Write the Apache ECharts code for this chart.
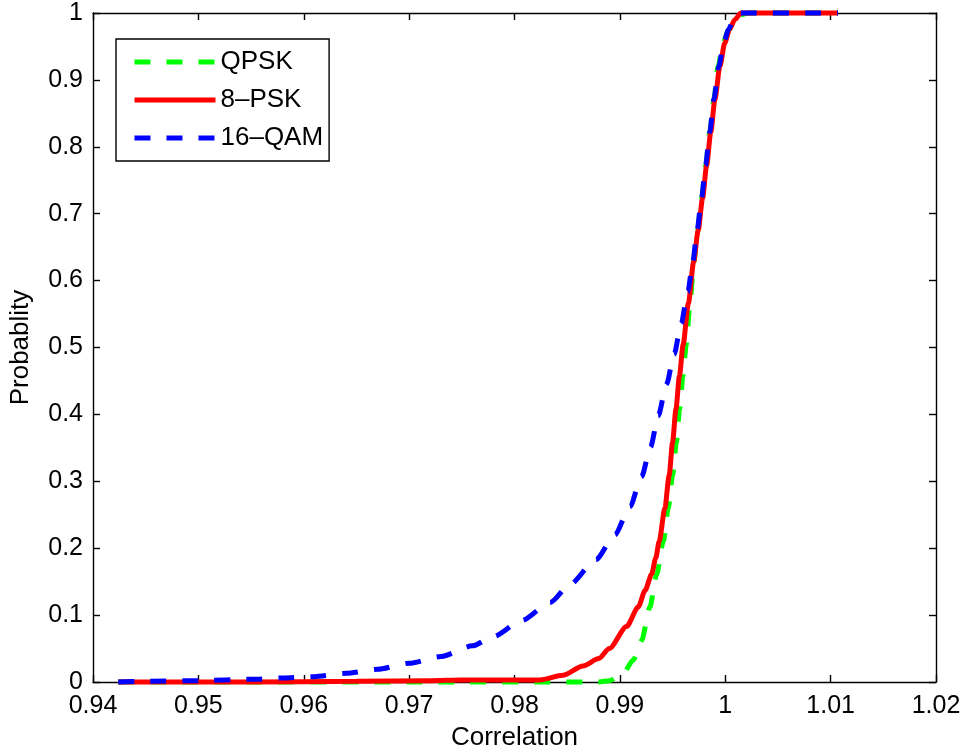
<!DOCTYPE html>
<html>
<head>
<meta charset="utf-8">
<title>Correlation CDF</title>
<script src="https://cdn.jsdelivr.net/npm/echarts@6/dist/echarts.min.js"></script>
<style>
  html, body { margin: 0; padding: 0; background: #fff; overflow: hidden; }
  #chart { width: 965px; height: 756px; }
</style>
</head>
<body>
<div id="chart"></div>
<script>
// Axis ticks
const xTicks = { min: 0.94, max: 1.02, step: 0.01 };
const yTicks = { min: 0, max: 1, step: 0.1 };

// Series names
const seriesNames = ['QPSK', '8\u2013PSK', '16\u2013QAM'];

// QPSK empirical CDF
const qpskX = [0.9424, 0.975, 0.9880, 0.9890, 0.99032, 0.99127, 0.99206, 0.99285, 0.99349, 0.99412,
  0.99459, 0.99500, 0.99536, 0.99567, 0.99598, 0.9963, 0.99665, 0.99702, 0.99738, 0.99776,
  0.99815, 0.99853, 0.99892, 0.99932, 0.99978, 1.00035, 1.0010, 1.0015, 1.0022, 1.0107];
const qpskY = [0, 0, 0, 0.002, 0.013, 0.033, 0.062, 0.112, 0.161, 0.210,
  0.260, 0.309, 0.358, 0.408, 0.457, 0.504, 0.566, 0.628, 0.675, 0.723,
  0.772, 0.822, 0.871, 0.920, 0.955, 0.975, 0.990, 0.997, 1.0, 1.0];

// 8-PSK empirical CDF
const pskX = [0.9424, 0.955, 0.965, 0.972, 0.975, 0.980, 0.9824, 0.9846, 0.9865, 0.9880, 0.9890,
  0.99064, 0.99174, 0.9924, 0.99301, 0.9934, 0.99373, 0.99427, 0.99468, 0.99500, 0.99532,
  0.99565, 0.9960, 0.9965, 0.9970, 0.99743, 0.99785, 0.99823, 0.99863, 0.99902, 0.99949,
  0.99995, 1.0004, 1.0009, 1.0015, 1.0107];
const pskY = [0, 0, 0.001, 0.002, 0.003, 0.003, 0.003, 0.010, 0.024, 0.035, 0.050,
  0.083, 0.112, 0.137, 0.161, 0.185, 0.210, 0.260, 0.309, 0.358, 0.408,
  0.457, 0.504, 0.566, 0.628, 0.675, 0.723, 0.772, 0.822, 0.871, 0.920,
  0.955, 0.975, 0.990, 1.0, 1.0];

// 16-QAM empirical CDF
const qamX = [0.9424, 0.945, 0.950, 0.955, 0.958, 0.961, 0.964, 0.967, 0.970, 0.973,
  0.976, 0.978, 0.9807, 0.9834, 0.98526, 0.98772, 0.98953, 0.99095, 0.99206, 0.99291,
  0.99364, 0.99443, 0.99515, 0.99582, 0.99645, 0.99692, 0.99733, 0.99775, 0.99813,
  0.99853, 0.99892, 0.99938, 0.99985, 1.0003, 1.0008, 1.0014, 1.0107];
const qamY = [0, 0.001, 0.002, 0.004, 0.006, 0.008, 0.013, 0.019, 0.028, 0.038,
  0.054, 0.068, 0.092, 0.119, 0.146, 0.183, 0.220, 0.262, 0.307, 0.351,
  0.398, 0.445, 0.490, 0.536, 0.583, 0.628, 0.675, 0.723, 0.772,
  0.822, 0.871, 0.920, 0.955, 0.975, 0.990, 1.0, 1.0];

const pairs = (xs, ys) => xs.map((x, i) => [x, ys[i]]);

const FONT = "'Liberation Sans', Arial, Helvetica, sans-serif";
const axisLine = { show: true, onZero: false, lineStyle: { color: '#000', width: 1.4 } };
const tickIn = { show: true, inside: true, length: 7, lineStyle: { color: '#000', width: 1.4 } };

const fmtX = v => String(Math.round(v * 100) / 100);
const fmtY = v => String(Math.round(v * 10) / 10);

const chart = echarts.init(document.getElementById('chart'), null, { renderer: 'canvas', width: 965, height: 756 });

chart.setOption({
  animation: false,
  backgroundColor: '#fff',
  textStyle: { fontFamily: FONT },
  grid: { left: 93, top: 13, width: 843, height: 676, containLabel: false },
  legend: {
    left: 116, top: 39, orient: 'vertical',
    data: seriesNames,
    itemWidth: 81, itemHeight: 26, itemGap: 12, itemTextGap: 9,
    padding: [10, 6, 10, 16],
    backgroundColor: '#fff', borderColor: '#000', borderWidth: 1.4, borderRadius: 0,
    itemStyle: { opacity: 0 },
    lineStyle: { width: 5 },
    textStyle: { fontSize: 26, color: '#000', fontFamily: FONT },
    selectedMode: false
  },
  xAxis: [
    {
      type: 'value', position: 'bottom',
      min: xTicks.min, max: xTicks.max, interval: xTicks.step,
      name: 'Correlation', nameLocation: 'middle', nameGap: 43,
      nameTextStyle: { fontSize: 26, color: '#000', fontFamily: FONT },
      axisLine, axisTick: tickIn,
      axisLabel: { fontSize: 25, color: '#000', margin: 12, formatter: fmtX, fontFamily: FONT },
      splitLine: { show: false }
    },
    {
      type: 'value', position: 'top',
      min: xTicks.min, max: xTicks.max, interval: xTicks.step,
      axisLine, axisTick: tickIn, axisLabel: { show: false }, splitLine: { show: false }
    }
  ],
  yAxis: [
    {
      type: 'value', position: 'left',
      min: yTicks.min, max: yTicks.max, interval: yTicks.step,
      name: 'Probablity', nameLocation: 'middle', nameGap: 59,
      nameTextStyle: { fontSize: 26, color: '#000', fontFamily: FONT },
      axisLine, axisTick: tickIn,
      axisLabel: { fontSize: 25, color: '#000', margin: 10, formatter: fmtY, fontFamily: FONT },
      splitLine: { show: false }
    },
    {
      type: 'value', position: 'right',
      min: yTicks.min, max: yTicks.max, interval: yTicks.step,
      axisLine, axisTick: tickIn, axisLabel: { show: false }, splitLine: { show: false }
    }
  ],
  series: [
    {
      name: seriesNames[0], type: 'line', data: pairs(qpskX, qpskY),
      xAxisIndex: 0, yAxisIndex: 0, symbol: 'none', clip: false,
      smooth: 0.25, smoothMonotone: 'x',
      lineStyle: { color: '#00ff00', width: 5, type: [16, 16], cap: 'butt' },
      itemStyle: { color: '#00ff00' }, z: 2
    },
    {
      name: seriesNames[1], type: 'line', data: pairs(pskX, pskY),
      xAxisIndex: 0, yAxisIndex: 0, symbol: 'none', clip: false,
      smooth: 0.25, smoothMonotone: 'x',
      lineStyle: { color: '#ff0000', width: 5, type: 'solid' },
      itemStyle: { color: '#ff0000' }, z: 3
    },
    {
      name: seriesNames[2], type: 'line', data: pairs(qamX, qamY),
      xAxisIndex: 0, yAxisIndex: 0, symbol: 'none', clip: false,
      smooth: 0.25, smoothMonotone: 'x',
      lineStyle: { color: '#0000ff', width: 5, type: [16, 16], cap: 'butt' },
      itemStyle: { color: '#0000ff' }, z: 4
    }
  ]
});
</script>
</body>
</html>
